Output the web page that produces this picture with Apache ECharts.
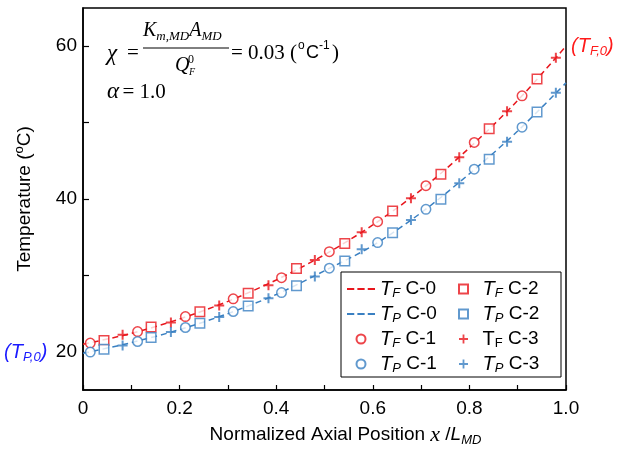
<!DOCTYPE html>
<html><head><meta charset="utf-8">
<script src="https://cdn.jsdelivr.net/npm/echarts@6/dist/echarts.min.js"></script>
<style>html,body{margin:0;padding:0;background:#fff}#c{width:617px;height:452px}</style>
</head><body><div id="c"></div>
<script>
// ---- data ----
const xC0 = [0, 0.1, 0.2, 0.3, 0.4, 0.5, 0.6, 0.7, 0.8, 0.9, 1.0];
const tfC0 = [21.0, 22.4, 24.3, 26.6, 29.4, 32.7, 36.6, 41.2, 46.7, 52.9, 60.0];
const tpC0 = [19.8, 21.2, 22.9, 25.0, 27.5, 30.6, 33.9, 38.2, 43.3, 48.9, 55.2];

const xC1 = [0.015, 0.113, 0.212, 0.311, 0.411, 0.51, 0.61, 0.71, 0.81, 0.909];
const tfC1 = [21.14, 22.65, 24.61, 26.93, 29.7, 33.11, 37.03, 41.74, 47.4, 53.5];
const tpC1 = [19.96, 21.35, 23.18, 25.27, 27.75, 30.94, 34.29, 38.65, 43.9, 49.4];

const xC2 = [0.0435, 0.141, 0.242, 0.342, 0.442, 0.542, 0.641, 0.741, 0.841, 0.94];
const tfC2 = [21.48, 23.23, 25.23, 27.67, 30.9, 34.16, 38.43, 43.23, 49.2, 55.7];
const tpC2 = [20.35, 21.87, 23.75, 26.01, 28.63, 31.9, 35.59, 39.96, 45.19, 51.4];

const xC3 = [0.082, 0.182, 0.282, 0.384, 0.48, 0.577, 0.679, 0.779, 0.878, 0.979];
const tfC3 = [22.22, 23.83, 26.05, 28.72, 32.0, 35.65, 40.09, 45.45, 51.5, 58.5];
const tpC3 = [20.82, 22.58, 24.54, 27.02, 29.84, 33.42, 37.25, 42.05, 47.5, 53.9];

const yTickValues = [20, 30, 40, 50, 60];
const yLabelValues = [20, 40, 60];

const legendLeftNames = ['TF C-0', 'TP C-0', 'TF C-1', 'TP C-1'];
const legendRightNames = ['TF C-2', 'TP C-2', 'TF C-3', 'TP C-3'];

// ---- styling ----
const RED = '#e8161d';
const BLUE = '#3a80c2';
const SANS = 'Liberation Sans';
const SERIF = 'Liberation Serif';
const zip = (xs, ys) => xs.map((x, i) => [x, ys[i]]);
const plusPath = 'path://M-1,-5 H1 V-1 H5 V1 H1 V5 H-1 V1 H-5 V-1 H-1 Z';
const dashIcon = 'path://M0,0H7V2H0Z M10,0H17V2H10Z M20,0H27V2H20Z';
const squareIcon = 'path://M0,0H10V10H0Z';

function lineSeries(name, ys, color) {
  return { name, type: 'line', data: zip(xC0, ys), smooth: 0.3, symbol: 'none', z: 2,
    lineStyle: { color, width: 1.5, type: [6, 4] }, itemStyle: { color } };
}
function markSeries(name, xs, ys, color, kind) {
  const s = { name, type: 'scatter', data: zip(xs, ys), z: 5 };
  if (kind === 'circle') { s.symbol = 'circle'; s.symbolSize = 9.5; s.itemStyle = { color: '#fff', borderColor: color, borderWidth: 1.5 }; }
  if (kind === 'rect') { s.symbol = 'rect'; s.symbolSize = 9.5; s.itemStyle = { color: '#fff', borderColor: color, borderWidth: 1.5 }; }
  if (kind === 'plus') { s.symbol = plusPath; s.symbolSize = 10; s.itemStyle = { color, borderWidth: 0 }; }
  return s;
}

const legRich = {
  t: { fontFamily: SANS, fontSize: 20, fontStyle: 'italic', color: '#000', lineHeight: 22 },
  tu: { fontFamily: SANS, fontSize: 20, color: '#000', lineHeight: 22 },
  s: { fontFamily: SANS, fontSize: 13, fontStyle: 'italic', color: '#000', verticalAlign: 'bottom', lineHeight: 13 },
  su: { fontFamily: SANS, fontSize: 13, color: '#000', verticalAlign: 'bottom', lineHeight: 13 },
  n: { fontFamily: SANS, fontSize: 19, color: '#000', lineHeight: 22 }
};
function legFmt(name) {
  const sub = name.charAt(1), rest = name.slice(2);
  if (name === 'TF C-3') return '{tu|T}{su|' + sub + '}{n|' + rest + '}';
  return '{t|T}{s|' + sub + '}{n|' + rest + '}';
}
function iconFor(name) {
  if (name.endsWith('C-0')) return dashIcon;
  if (name.endsWith('C-2')) return squareIcon;
  return undefined;
}
function legend(names, left) {
  return { data: names.map(n => { const ic = iconFor(n); return ic ? { name: n, icon: ic } : { name: n }; }),
    orient: 'vertical', left, top: 279, padding: 0, itemWidth: 28, itemHeight: 9, itemGap: 4,
    selectedMode: false, formatter: legFmt, textStyle: { rich: legRich } };
}

const chart = echarts.init(document.getElementById('c'), null, { renderer: 'canvas' });
chart.setOption({
  animation: false,
  backgroundColor: '#fff',
  grid: { left: 83, right: 51, top: 8, bottom: 62, show: true, borderColor: '#000', borderWidth: 1.5, backgroundColor: 'transparent' },
  xAxis: {
    type: 'value', min: 0, max: 1, interval: 0.1,
    axisLine: { lineStyle: { color: '#000', width: 1.5 } },
    axisTick: { inside: true, length: 5, lineStyle: { color: '#000', width: 1.2 } },
    splitLine: { show: false },
    axisLabel: { color: '#000', fontFamily: SANS, fontSize: 19, margin: 9,
      formatter: v => { const k = Math.round(v * 10); if (k % 2) return ''; return k === 0 ? '0' : (k / 10).toFixed(1); } },
    name: '{a|Normalized Axial Position }{x|x}{a| /}{l|L}{s|MD}',
    nameLocation: 'middle', nameGap: 33,
    nameTextStyle: { padding: [0, 0, 0, 42], rich: {
      a: { fontFamily: SANS, fontSize: 19, color: '#000', lineHeight: 24 },
      x: { fontFamily: SERIF, fontSize: 22, fontStyle: 'italic', color: '#000', lineHeight: 24 },
      l: { fontFamily: SANS, fontSize: 19, fontStyle: 'italic', color: '#000', lineHeight: 24 },
      s: { fontFamily: SANS, fontSize: 13, fontStyle: 'italic', color: '#000', verticalAlign: 'bottom', lineHeight: 13 }
    } }
  },
  yAxis: {
    type: 'value', min: 15, max: 65,
    axisLine: { lineStyle: { color: '#000', width: 1.5 } },
    axisTick: { inside: true, length: 6, customValues: yTickValues, lineStyle: { color: '#000', width: 1.2 } },
    splitLine: { show: false },
    axisLabel: { color: '#000', fontFamily: SANS, fontSize: 19, margin: 6, customValues: yLabelValues },
    name: '{a|Temperature (}{o|o}{a|C)}',
    nameLocation: 'middle', nameRotate: 90, nameGap: 46,
    nameTextStyle: { rich: {
      a: { fontFamily: SANS, fontSize: 19, color: '#000', lineHeight: 24 },
      o: { fontFamily: SANS, fontSize: 13, color: '#000', verticalAlign: 'top', lineHeight: 14 }
    } }
  },
  legend: [legend(legendLeftNames, 347), legend(legendRightNames, 458)],
  series: [
    lineSeries('TF C-0', tfC0, RED),
    lineSeries('TP C-0', tpC0, BLUE),
    markSeries('TF C-1', xC1, tfC1, RED, 'circle'),
    markSeries('TP C-1', xC1, tpC1, BLUE, 'circle'),
    markSeries('TF C-2', xC2, tfC2, RED, 'rect'),
    markSeries('TP C-2', xC2, tpC2, BLUE, 'rect'),
    markSeries('TF C-3', xC3, tfC3, RED, 'plus'),
    markSeries('TP C-3', xC3, tpC3, BLUE, 'plus')
  ],
  graphic: [
    { type: 'rect', shape: { x: 341, y: 272, width: 220, height: 105 }, style: { fill: 'transparent', stroke: '#000', lineWidth: 1 }, z: 10 },
    // formula
    { type: 'text', x: 107, y: 54, style: { text: 'χ', font: 'italic 23px ' + SERIF, fill: '#000', verticalAlign: 'middle' } },
    { type: 'text', x: 127, y: 53, style: { text: '=', font: '21px ' + SERIF, fill: '#000', verticalAlign: 'middle' } },
    { type: 'text', x: 143, y: 31, style: { text: '{k|K}{s|m,MD}{k|A}{s|MD}', fill: '#000', verticalAlign: 'middle',
      rich: { k: { font: 'italic 20px ' + SERIF, lineHeight: 24 }, s: { font: 'italic 13px ' + SERIF, verticalAlign: 'bottom', lineHeight: 14 } } } },
    { type: 'line', shape: { x1: 143, y1: 48, x2: 229, y2: 48 }, style: { stroke: '#000', lineWidth: 1 } },
    { type: 'text', x: 175, y: 66, style: { text: 'Q', font: 'italic 20px ' + SERIF, fill: '#000', verticalAlign: 'middle' } },
    { type: 'text', x: 188, y: 60, style: { text: '0', font: '12px ' + SERIF, fill: '#000', verticalAlign: 'middle' } },
    { type: 'text', x: 189, y: 72, style: { text: 'F', font: 'italic 10px ' + SERIF, fill: '#000', verticalAlign: 'middle' } },
    { type: 'text', x: 231, y: 53, style: { text: '= 0.03 (', font: '21px ' + SERIF, fill: '#000', verticalAlign: 'middle' } },
    { type: 'text', x: 298, y: 46, style: { text: 'o', font: '12px ' + SANS, fill: '#000', verticalAlign: 'middle' } },
    { type: 'text', x: 306, y: 53, style: { text: 'C', font: '18px ' + SANS, fill: '#000', verticalAlign: 'middle' } },
    { type: 'text', x: 319, y: 46, style: { text: '-1', font: '12px ' + SANS, fill: '#000', verticalAlign: 'middle' } },
    { type: 'text', x: 332, y: 53, style: { text: ')', font: '21px ' + SERIF, fill: '#000', verticalAlign: 'middle' } },
    { type: 'text', x: 107, y: 92, style: { text: '{g|α} {e|= 1.0}', fill: '#000', verticalAlign: 'middle',
      rich: { g: { font: 'italic 23px ' + SERIF }, e: { font: '21px ' + SERIF } } } },
    // end-point annotations
    { type: 'text', x: 4, y: 352, style: { text: '{p|(}{t|T}{s|P,0}{p|)}', fill: '#1a1aff', verticalAlign: 'middle',
      rich: { p: { font: 'italic 20px ' + SANS, fill: '#1a1aff', lineHeight: 24 }, t: { font: 'italic 20px ' + SANS, fill: '#1a1aff', lineHeight: 24 },
              s: { font: 'italic 13px ' + SANS, fill: '#1a1aff', verticalAlign: 'bottom', lineHeight: 14 } } } },
    { type: 'text', x: 571, y: 46, style: { text: '{p|(}{t|T}{s|F,0}{p|)}', fill: '#ff1a1a', verticalAlign: 'middle',
      rich: { p: { font: 'italic 20px ' + SANS, fill: '#ff1a1a', lineHeight: 24 }, t: { font: 'italic 20px ' + SANS, fill: '#ff1a1a', lineHeight: 24 },
              s: { font: 'italic 13px ' + SANS, fill: '#ff1a1a', verticalAlign: 'bottom', lineHeight: 14 } } } }
  ]
});
</script>
</body></html>
